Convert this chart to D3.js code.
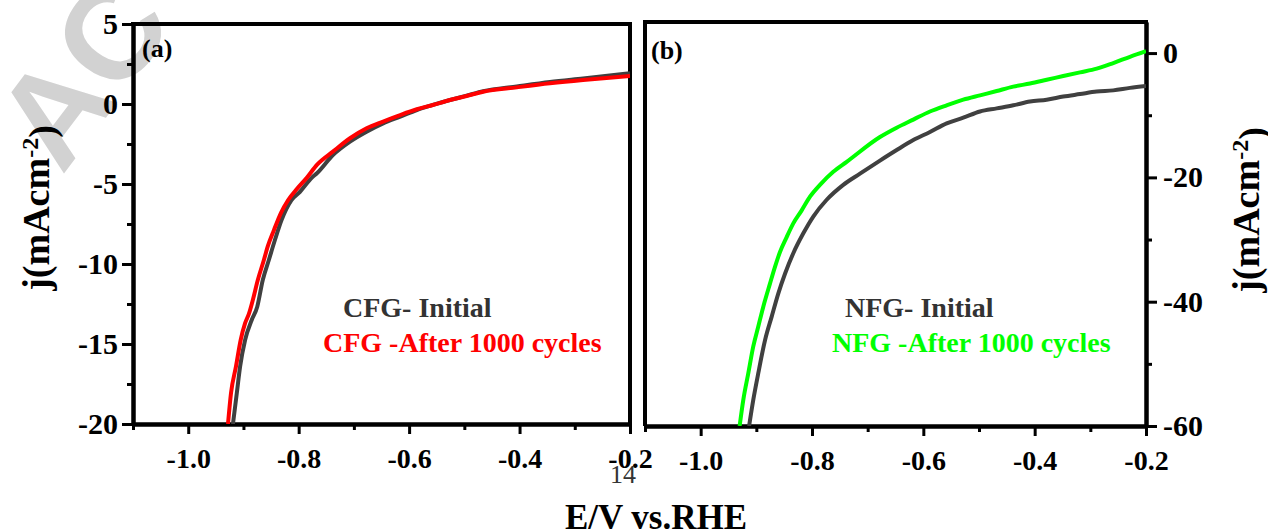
<!DOCTYPE html>
<html>
<head>
<meta charset="utf-8">
<script src="https://cdn.jsdelivr.net/npm/d3@7"></script>
<style>
  html, body { margin: 0; padding: 0; background: #fff; }
  svg { display: block; }
  text { font-family: "Liberation Serif", "Times New Roman", serif; }
</style>
</head>
<body>
<svg id="chart" width="1268" height="531"></svg>
<script>
// ---------------- data ----------------
const xMajorTicks = [-1.0, -0.8, -0.6, -0.4, -0.2];
const xMinorTicks = [-1.1, -0.9, -0.7, -0.5, -0.3];
const yTicksA = [5, 0, -5, -10, -15, -20];
const yMinorA = [2.5, -2.5, -7.5, -12.5, -17.5];
const yTicksB = [0, -20, -40, -60];
const yMinorB = [-10, -30, -50];

// Panel (a): CFG, [E (V vs RHE), j (mA cm^-2)]
const cfgInitial = [
  [-0.919,-20],[-0.912,-18.06],[-0.906,-16.4],[-0.897,-14.75],[-0.885,-13.5],[-0.875,-12.67],
  [-0.865,-11],[-0.854,-9.75],[-0.843,-8.5],[-0.831,-7.25],[-0.813,-6],[-0.798,-5.5],
  [-0.776,-4.6],[-0.767,-4.33],[-0.738,-3.19],[-0.707,-2.35],[-0.677,-1.73],[-0.647,-1.21],
  [-0.616,-0.79],[-0.586,-0.375],[-0.557,-0.06],[-0.526,0.25],[-0.496,0.52],[-0.466,0.8],
  [-0.405,1.1],[-0.345,1.38],[-0.285,1.6],[-0.2,1.92]
];
const cfgAfter = [
  [-0.928,-20],[-0.9225,-18.06],[-0.9135,-16.4],[-0.905,-14.75],[-0.897,-13.7],[-0.89,-13.1],
  [-0.883,-12.25],[-0.874,-11],[-0.863,-9.75],[-0.856,-8.9],[-0.845,-7.9],[-0.832,-6.8],
  [-0.819,-6],[-0.803,-5.3],[-0.785,-4.6],[-0.767,-3.81],[-0.738,-2.98],[-0.707,-2.14],
  [-0.677,-1.52],[-0.647,-1.1],[-0.616,-0.69],[-0.586,-0.33],[-0.557,-0.06],[-0.526,0.25],
  [-0.496,0.5],[-0.466,0.77],[-0.405,1.04],[-0.345,1.29],[-0.285,1.5],[-0.2,1.75]
];
// Panel (b): NFG
const nfgInitial = [
  [-0.913,-60],[-0.9055,-55.8],[-0.8965,-51.5],[-0.8844,-46.2],[-0.8724,-42.4],[-0.8606,-38.7],
  [-0.8485,-35.5],[-0.8336,-32.2],[-0.8156,-29],[-0.7977,-26.3],[-0.7736,-23.6],[-0.7438,-21.2],
  [-0.7138,-19.4],[-0.6779,-17.3],[-0.6479,-15.6],[-0.618,-14],[-0.5881,-12.7],[-0.5581,-11.3],
  [-0.5282,-10.4],[-0.4982,-9.4],[-0.4682,-8.9],[-0.4384,-8.4],[-0.4084,-7.8],[-0.3784,-7.5],
  [-0.3486,-7],[-0.3186,-6.6],[-0.2886,-6.2],[-0.2588,-6],[-0.2288,-5.6],[-0.2,-5.3]
];
const nfgAfter = [
  [-0.93,-60],[-0.9234,-55.8],[-0.9144,-51.5],[-0.9055,-47.2],[-0.8965,-44],[-0.8875,-40.8],
  [-0.8755,-37.1],[-0.8665,-34.4],[-0.8575,-32],[-0.8455,-29.6],[-0.8336,-27.4],[-0.8185,-25.3],
  [-0.8036,-23.1],[-0.7857,-21.2],[-0.7618,-19.1],[-0.7377,-17.5],[-0.6779,-13.5],[-0.6479,-12],
  [-0.618,-10.7],[-0.5881,-9.4],[-0.5581,-8.4],[-0.5282,-7.5],[-0.4982,-6.8],[-0.4682,-6.1],
  [-0.4384,-5.4],[-0.4084,-4.9],[-0.3784,-4.3],[-0.3486,-3.7],[-0.3186,-3.1],[-0.2886,-2.5],
  [-0.2588,-1.6],[-0.2288,-0.6],[-0.2,0.3]
];

const legendA = ["CFG- Initial", "CFG -After 1000 cycles"];
const legendB = ["NFG- Initial", "NFG -After 1000 cycles"];
const colors = { initial: "#404040", cfgAfter: "#ff0000", nfgAfter: "#00ff00" };

// ---------------- drawing ----------------
const svg = d3.select("#chart");

// watermark
svg.append("text")
  .attr("transform", "translate(62,176) rotate(-53)")
  .style("font-family", "'Liberation Sans', Arial, sans-serif")
  .style("font-weight", "bold")
  .style("font-size", "132px")
  .attr("fill", "#d2d2d2")
  .text("AC");

const fmtX = d => d.toFixed(1);
const fmtY = d => String(d);

function styleAxis(g, fontSize) {
  g.selectAll(".domain").attr("stroke", "#000").attr("stroke-width", 4);
  g.selectAll(".tick line").attr("stroke", "#000").attr("stroke-width", 3);
  g.selectAll(".tick text")
    .attr("fill", "#000")
    .style("font-family", "'Liberation Serif', 'Times New Roman', serif")
    .style("font-weight", "bold")
    .style("font-size", fontSize + "px");
}

function panel(cfg) {
  const { x, y, yTicks, yMinor, side, series, label, labelPos, legend, legendPos, clipId } = cfg;
  const [x0, x1] = x.range();
  const [yb, yt] = y.range();

  svg.append("clipPath").attr("id", clipId)
    .append("rect").attr("x", x0).attr("y", yt).attr("width", x1 - x0).attr("height", yb - yt);

  // frame lines
  const frame = svg.append("g").attr("stroke", "#000").attr("stroke-width", 4).attr("fill", "none");
  frame.append("line").attr("x1", x0 - 2).attr("x2", x1 + 2).attr("y1", yt).attr("y2", yt);
  if (side === "left") {
    frame.append("line").attr("x1", x1).attr("x2", x1).attr("y1", yt).attr("y2", yb);
  } else {
    frame.append("line").attr("x1", x0).attr("x2", x0).attr("y1", yt).attr("y2", yb);
  }

  // x axis
  const gxMinor = svg.append("g").attr("transform", `translate(0,${yb})`)
    .call(d3.axisBottom(x).tickValues(xMinorTicks).tickSize(6).tickSizeOuter(0).tickFormat(""));
  styleAxis(gxMinor, 28);
  const gx = svg.append("g").attr("transform", `translate(0,${yb})`)
    .call(d3.axisBottom(x).tickValues(xMajorTicks).tickSize(10).tickSizeOuter(0).tickPadding(14).tickFormat(fmtX));
  styleAxis(gx, 28);

  // y axis
  const ax = side === "left" ? d3.axisLeft : d3.axisRight;
  const xPos = side === "left" ? x0 : x1;
  const gyMinor = svg.append("g").attr("transform", `translate(${xPos},0)`)
    .call(ax(y).tickValues(yMinor).tickSize(6).tickSizeOuter(0).tickFormat(""));
  styleAxis(gyMinor, 30);
  const gy = svg.append("g").attr("transform", `translate(${xPos},0)`)
    .call(ax(y).tickValues(yTicks).tickSize(11).tickSizeOuter(0).tickPadding(side === "left" ? 4 : 6).tickFormat(fmtY));
  styleAxis(gy, 30);

  // curves
  const line = d3.line().x(d => x(d[0])).y(d => y(d[1])).curve(d3.curveMonotoneX);
  const gc = svg.append("g").attr("clip-path", `url(#${clipId})`);
  series.forEach(s => {
    gc.append("path").datum(s.data)
      .attr("fill", "none").attr("stroke", s.color).attr("stroke-width", 4)
      .attr("stroke-linejoin", "round").attr("d", line);
  });

  // panel label
  svg.append("text").attr("x", labelPos[0]).attr("y", labelPos[1])
    .style("font-weight", "bold").style("font-size", "26px").attr("fill", "#000").text(label);

  // legend
  legend.forEach((t, i) => {
    svg.append("text").attr("x", legendPos[i][0]).attr("y", legendPos[i][1])
      .style("font-weight", "bold").style("font-size", "28px")
      .attr("fill", i === 0 ? "#333" : series[1].color).text(t);
  });
}

const xA = d3.scaleLinear().domain([-1.1, -0.2]).range([133, 630]);
const yA = d3.scaleLinear().domain([-20, 5]).range([424, 24]);
const xB = d3.scaleLinear().domain([-1.1, -0.2]).range([645, 1146]);
const yB = d3.scaleLinear().domain([-60, 5]).range([426, 22]);

panel({
  x: xA, y: yA, yTicks: yTicksA, yMinor: yMinorA, side: "left", clipId: "clipA",
  series: [{ data: cfgInitial, color: colors.initial }, { data: cfgAfter, color: colors.cfgAfter }],
  label: "(a)", labelPos: [142, 57],
  legend: legendA, legendPos: [[343, 317], [323, 352]]
});
panel({
  x: xB, y: yB, yTicks: yTicksB, yMinor: yMinorB, side: "right", clipId: "clipB",
  series: [{ data: nfgInitial, color: colors.initial }, { data: nfgAfter, color: colors.nfgAfter }],
  label: "(b)", labelPos: [651, 59],
  legend: legendB, legendPos: [[845, 317], [832, 352]]
});

// axis titles
function yTitle(xp, yp) {
  const t = svg.append("text")
    .attr("transform", `translate(${xp},${yp}) rotate(-90)`)
    .attr("text-anchor", "middle")
    .style("font-weight", "bold").style("font-size", "38px").attr("fill", "#000");
  t.append("tspan").text("j(mAcm");
  t.append("tspan").attr("dy", "-0.45em").style("font-size", "24px").text("-2");
  t.append("tspan").attr("dy", "0.45em").text(")");
}
yTitle(49, 208);
yTitle(1259, 210);

svg.append("text").attr("x", 656).attr("y", 529).attr("text-anchor", "middle")
  .style("font-weight", "bold").style("font-size", "35px").attr("fill", "#000")
  .text("E/V vs.RHE");

// page number from source document
svg.append("text").attr("x", 623).attr("y", 483).attr("text-anchor", "middle")
  .style("font-size", "26px").attr("fill", "#333").text("14");
</script>
</body>
</html>
